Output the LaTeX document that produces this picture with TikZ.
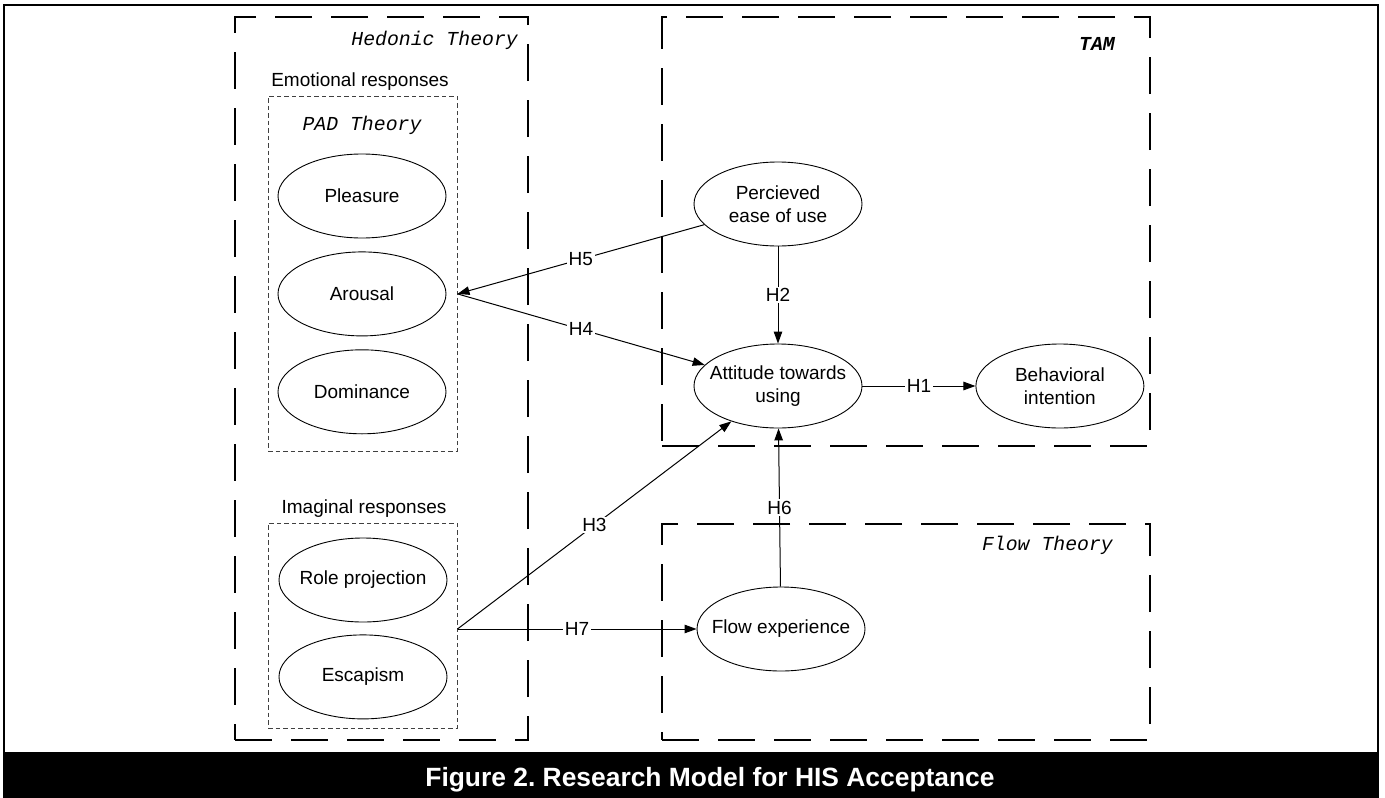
\documentclass[tikz,border=0pt]{standalone}
\usepackage{fontspec}
\setmainfont{Liberation Sans}
\newfontfamily\theoryfont{Liberation Mono}
\usetikzlibrary{shapes.geometric, arrows.meta, positioning}
\frenchspacing
\tikzset{
  construct/.style={ellipse, draw, line width=0.9pt, minimum width=168pt,
    minimum height=84pt, inner xsep=-12pt, inner ysep=0pt, align=center,
    font=\fontsize{19}{23}\selectfont},
  theorybox/.style={draw, line width=2.5pt, dash pattern=on 37pt off 19pt},
  groupbox/.style={draw=black!75, line width=1pt, dash pattern=on 4.5pt off 3pt},
  theorylbl/.style={font=\theoryfont\itshape\fontsize{19.8}{23}\selectfont, inner sep=0pt},
  grouplbl/.style={font=\fontsize{19}{23}\selectfont, inner sep=0pt},
  hyp/.style={-{Triangle[length=12pt,width=8.5pt]}, line width=1pt},
  hlbl/.style={fill=white, inner sep=1.5pt, font=\fontsize{19}{23}\selectfont}
}
\begin{document}
\begin{tikzpicture}[x=1pt, y=-1pt]
  \useasboundingbox (0,0) rectangle (1385,798);
  % frame and caption bar
  \draw[line width=2pt] (4,5) rectangle (1378,797);
  \fill (4,752) rectangle (1378,798);
  \node[anchor=base, text=white, inner sep=0pt,
    font=\bfseries\fontsize{26.4}{30}\selectfont] (caption) at (710,786)
    {Figure 2. Research Model for HIS Acceptance};
  % theory frames
  \node[theorybox, minimum width=293pt, minimum height=723pt] (hedonic) at (381.5,378.5) {};
  \node[theorybox, minimum width=488pt, minimum height=429pt] (tam) at (906,231.5) {};
  \node[theorybox, minimum width=488pt, minimum height=216pt] (flowth) at (906,632) {};
  \node[theorylbl, anchor=base east] (hedlbl) at (518,45) {Hedonic Theory};
  \node[theorylbl, anchor=base east, font=\theoryfont\bfseries\itshape\fontsize{19.8}{23}\selectfont] (tamlbl) at (1115,50) {TAM};
  \node[theorylbl, anchor=base east] (flowlbl) at (1113,550) {Flow Theory};
  % emotional responses
  \node[grouplbl, anchor=base] (emolbl) at (360,86) {Emotional responses};
  \node[groupbox, minimum width=189pt, minimum height=355pt] (pad) at (362.5,273.5) {};
  \node[theorylbl, anchor=base] (padlbl) at (362,130) {PAD Theory};
  \node[construct] (pleasure) at (362,196) {Pleasure};
  \node[construct, below=13pt of pleasure] (arousal) {Arousal};
  \node[construct, below=13pt of arousal] (dominance) {Dominance};
  % imaginal responses
  \node[grouplbl, anchor=base] (imglbl) at (364,513) {Imaginal responses};
  \node[groupbox, minimum width=189pt, minimum height=205pt] (imaginal) at (362.5,625.5) {};
  \node[construct] (roleproj) at (363,580) {Role projection};
  \node[construct, below=12pt of roleproj] (escapism) {Escapism};
  % TAM and flow
  \node[construct] (perceived) at (778,204) {Percieved\\ease of use};
  \node[construct] (attitude) at (778,386) {Attitude towards\\using};
  \node[construct, right=113pt of attitude] (intention) {Behavioral\\intention};
  \node[construct] (flow) at (781,629) {Flow experience};
  % hypotheses
  \coordinate (padin) at (pad.east |- arousal.center);
  \coordinate (imout) at (imaginal.east |- flow.center);
  \draw[hyp] (attitude) -- node[hlbl]{H1} (intention);
  \draw[hyp] (perceived) -- node[hlbl]{H2} (attitude);
  \draw[hyp] (imout) -- node[hlbl]{H3} (attitude);
  \draw[hyp] (padin) -- node[hlbl]{H4} (attitude);
  \draw[hyp] (perceived) -- node[hlbl]{H5} (padin);
  \draw[hyp] (flow) -- node[hlbl]{H6} (attitude);
  \draw[hyp] (imout) -- node[hlbl]{H7} (flow);
\end{tikzpicture}
\end{document}
